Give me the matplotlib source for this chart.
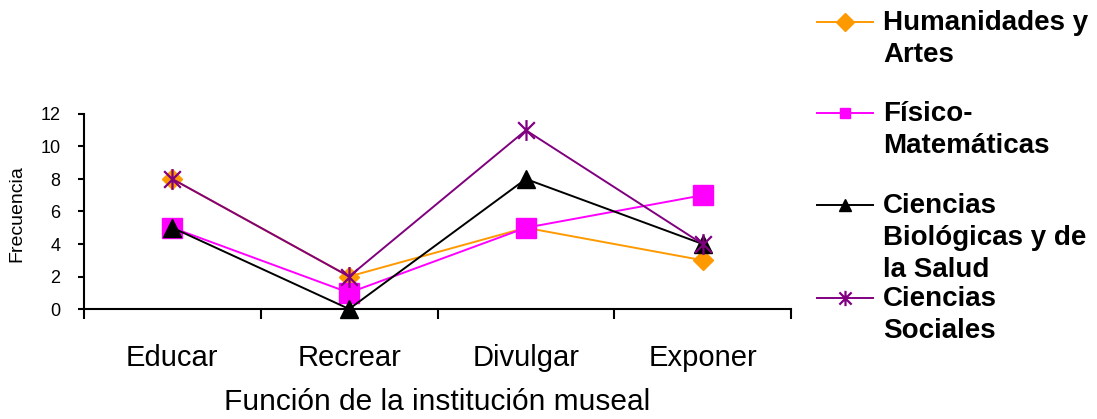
import matplotlib.pyplot as plt
from matplotlib.lines import Line2D
from matplotlib.path import Path
import numpy as np

plt.rcParams['font.family'] = ['Liberation Sans', 'DejaVu Sans']

# data
categorias = ["Educar", "Recrear", "Divulgar", "Exponer"]
humanidades = [8, 2, 5, 3]
fisico = [5, 1, 5, 7]
biologicas = [5, 0, 8, 4]
sociales = [8, 2, 11, 4]
etiquetas = ["Humanidades y\nArtes", "Físico-\nMatemáticas",
             "Ciencias\nBiológicas y de\nla Salud", "Ciencias\nSociales"]

# asterisk marker (vertical bar + X)
aster = Path([(0, -1), (0, 1), (-0.8, -0.8), (0.8, 0.8), (-0.8, 0.8), (0.8, -0.8)],
             [Path.MOVETO, Path.LINETO] * 3)

estilos = [
    dict(color="#FF9900", marker="D", ms=10, mfc="#FF9900", mec="#FF9900", mew=1),
    dict(color="#FF00FF", marker="s", ms=14, mfc="#FF00FF", mec="#FF00FF", mew=1),
    dict(color="black", marker="^", ms=13, mfc="black", mec="black", mew=1),
    dict(color="#800080", marker=aster, ms=15, mfc="none", mec="#800080", mew=1.6),
]
series = [humanidades, fisico, biologicas, sociales]

W, H = 1097, 419
fig = plt.figure(figsize=(W / 100, H / 100), dpi=100)
ax = fig.add_axes([84 / W, (H - 309) / H, (791 - 84) / W, (309 - 114) / H])

x = np.arange(len(categorias))
for vals, st in zip(series, estilos):
    ax.plot(x, vals, lw=1.4, clip_on=False, **st)

ax.set_xlim(-0.5, len(categorias) - 0.5)
ax.set_ylim(0, 12)
ax.set_yticks(range(0, 13, 2))
ax.spines['top'].set_visible(False)
ax.spines['right'].set_visible(False)
ax.spines['left'].set_linewidth(1.5)
ax.spines['bottom'].set_linewidth(1.5)

# boundary ticks as major, category names as minor
ax.set_xticks(np.arange(-0.5, len(categorias), 1.0))
ax.set_xticklabels([])
ax.set_xticks(x, minor=True)
ax.set_xticklabels(categorias, minor=True, fontsize=21)
ax.tick_params(axis='x', which='major', direction='out', length=7, width=1.5)
ax.tick_params(axis='x', which='minor', length=0, pad=25)
ax.tick_params(axis='y', direction='out', length=4, width=1.5, pad=13, labelsize=13)

ax.set_xlabel("Función de la institución museal", fontsize=21.5, labelpad=12)
ax.set_ylabel("Frecuencia", fontsize=14)
ax.yaxis.set_label_coords(-0.083, 0.49)

# legend drawn by hand so the marker sits on the first text line
leg_y = [22, 113, 205, 298]
leg_ms = [9, 7, 9, 11]
for yy, lab, st, ms in zip(leg_y, etiquetas, estilos, leg_ms):
    st2 = dict(st)
    st2['ms'] = ms
    fig.add_artist(Line2D([817 / W, 873 / W], [1 - yy / H, 1 - yy / H], lw=1.4,
                          transform=fig.transFigure, markevery=[], **st2))
    fig.add_artist(Line2D([845 / W], [1 - yy / H], lw=0,
                          transform=fig.transFigure, **st2))
    fig.text(883 / W, 1 - (yy - 12) / H, lab, fontsize=20, fontweight='bold',
             va='top', ha='left', linespacing=1.3)

fig.savefig("out.png", dpi=100)
